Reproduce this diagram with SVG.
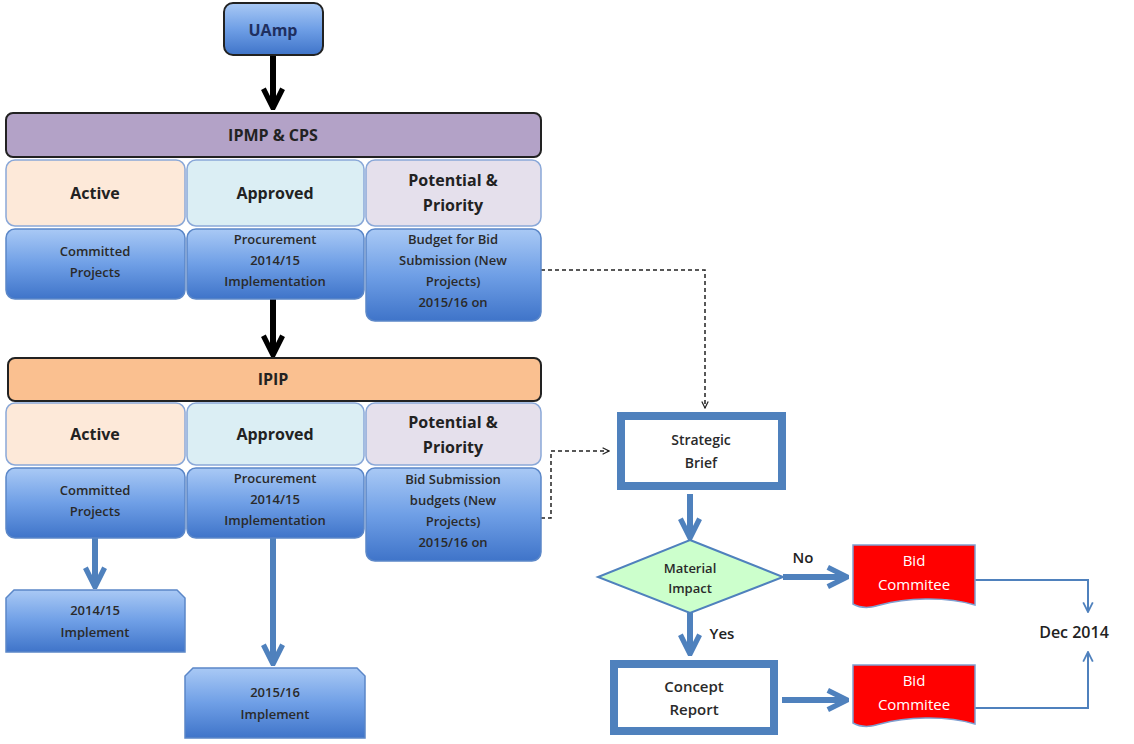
<svg xmlns="http://www.w3.org/2000/svg" width="1134" height="744" viewBox="0 0 1134 744">
<defs>
<linearGradient id="blue" x1="0" y1="0" x2="0" y2="1">
<stop offset="0" stop-color="#a9c9f5"/>
<stop offset="0.5" stop-color="#6f9fe6"/>
<stop offset="1" stop-color="#3f74c9"/>
</linearGradient>
<marker id="blk" viewBox="0 0 10 10" refX="9" refY="5" markerWidth="4" markerHeight="4" orient="auto" markerUnits="strokeWidth"><path d="M1,1 L9,5 L1,9" fill="none" stroke="#000" stroke-width="2.2"/></marker>
<marker id="bl" viewBox="0 0 10 10" refX="9" refY="5" markerWidth="4" markerHeight="4" orient="auto" markerUnits="strokeWidth"><path d="M1,1 L9,5 L1,9" fill="none" stroke="#4f81bd" stroke-width="2.2"/></marker>
<marker id="dsh" viewBox="0 0 10 10" refX="9" refY="5" markerWidth="8" markerHeight="8" orient="auto" markerUnits="userSpaceOnUse"><path d="M1,1 L9,5 L1,9" fill="none" stroke="#222" stroke-width="1.5"/></marker>
<marker id="thin" viewBox="0 0 10 10" refX="9" refY="5" markerWidth="12" markerHeight="12" orient="auto" markerUnits="userSpaceOnUse"><path d="M1,1 L9,5 L1,9" fill="none" stroke="#4f81bd" stroke-width="1.5"/></marker>
</defs>
<style>
text{font-family:"Open Sans","Liberation Sans",sans-serif;text-anchor:middle;fill:#222}
.h{font-size:16px;font-weight:bold}
.c{font-size:16px;font-weight:bold}
.b{font-size:13px;font-weight:600;fill:#2a2a2a}
.w{fill:#fff;font-size:15px}
.bx{fill:url(#blue);stroke:#5b87c8;stroke-width:1.5}
.hd{stroke:#222;stroke-width:2}
.cat{stroke:#8aa8d8;stroke-width:1.5}
.red{fill:#ff0000;stroke:#7f9fd0;stroke-width:1.5}
.dbl{fill:#fff;stroke:#4f81bd;stroke-width:8}
</style>
<rect width="1134" height="744" fill="#fff"/>
<g id="connectors">
<line x1="273" y1="55" x2="273" y2="108" stroke="#000" stroke-width="6" marker-end="url(#blk)"/>
<line x1="273" y1="299" x2="273" y2="355" stroke="#000" stroke-width="6" marker-end="url(#blk)"/>
<line x1="95" y1="538" x2="95" y2="587" stroke="#4f81bd" stroke-width="6" marker-end="url(#bl)"/>
<line x1="273" y1="538" x2="273" y2="664" stroke="#4f81bd" stroke-width="6" marker-end="url(#bl)"/>
<path d="M541,270 H705 V408" fill="none" stroke="#222" stroke-width="1.5" stroke-dasharray="4,3" marker-end="url(#dsh)"/>
<path d="M541,518 H551 V451 H609" fill="none" stroke="#222" stroke-width="1.5" stroke-dasharray="4,3" marker-end="url(#dsh)"/>
<line x1="690" y1="494" x2="690" y2="538" stroke="#4f81bd" stroke-width="6" marker-end="url(#bl)"/>
<line x1="783" y1="577" x2="847" y2="577" stroke="#4f81bd" stroke-width="6" marker-end="url(#bl)"/>
<line x1="690" y1="613" x2="690" y2="654" stroke="#4f81bd" stroke-width="6" marker-end="url(#bl)"/>
<line x1="782" y1="700" x2="847" y2="700" stroke="#4f81bd" stroke-width="6" marker-end="url(#bl)"/>
<path d="M975,580 H1088 V612" fill="none" stroke="#4f81bd" stroke-width="2" marker-end="url(#thin)"/>
<path d="M975,708 H1088 V652" fill="none" stroke="#4f81bd" stroke-width="2" marker-end="url(#thin)"/>
<text x="803" y="563" style="font-size:15px;font-weight:600">No</text>
<text x="722" y="639" style="font-size:15px;font-weight:600">Yes</text>
</g>
<g id="uamp"><rect x="224" y="3" width="99" height="52" rx="9" class="bx" style="stroke:#222;stroke-width:2"/><text x="273" y="36" class="h" style="fill:#1f2f5f">UAmp</text></g>
<g id="ipmp"><rect x="6" y="113" width="535" height="44" rx="7" fill="#b3a2c7" class="hd"/><text x="273" y="141" class="h">IPMP &amp; CPS</text></g>
<g id="active1"><rect x="6" y="160" width="179" height="66" rx="9" fill="#fde9d9" class="cat"/><text x="95" y="199" class="c">Active</text></g>
<g id="approved1"><rect x="187" y="160" width="177" height="66" rx="9" fill="#dbeef4" class="cat"/><text x="275" y="199" class="c">Approved</text></g>
<g id="potential1"><rect x="366" y="160" width="175" height="66" rx="9" fill="#e5e0ec" class="cat"/><text x="453" y="186" class="c">Potential &amp;</text><text x="453" y="211" class="c">Priority</text></g>
<g id="committed1"><rect x="6" y="229" width="179" height="70" rx="9" class="bx"/><text x="95" y="256" class="b">Committed</text><text x="95" y="277" class="b">Projects</text></g>
<g id="procurement1"><rect x="187" y="229" width="177" height="70" rx="9" class="bx"/><text x="275" y="244" class="b">Procurement</text><text x="275" y="265" class="b">2014/15</text><text x="275" y="286" class="b">Implementation</text></g>
<g id="budget1"><rect x="366" y="229" width="175" height="92" rx="9" class="bx"/><text x="453" y="244" class="b">Budget for Bid</text><text x="453" y="265" class="b">Submission (New</text><text x="453" y="286" class="b">Projects)</text><text x="453" y="307" class="b">2015/16 on</text></g>
<g id="ipip"><rect x="8" y="358" width="533" height="43" rx="7" fill="#fac090" class="hd"/><text x="273" y="385" class="h">IPIP</text></g>
<g id="active2"><rect x="6" y="403" width="179" height="62" rx="9" fill="#fde9d9" class="cat"/><text x="95" y="440" class="c">Active</text></g>
<g id="approved2"><rect x="187" y="403" width="177" height="62" rx="9" fill="#dbeef4" class="cat"/><text x="275" y="440" class="c">Approved</text></g>
<g id="potential2"><rect x="366" y="403" width="175" height="62" rx="9" fill="#e5e0ec" class="cat"/><text x="453" y="428" class="c">Potential &amp;</text><text x="453" y="453" class="c">Priority</text></g>
<g id="committed2"><rect x="6" y="468" width="179" height="70" rx="9" class="bx"/><text x="95" y="495" class="b">Committed</text><text x="95" y="516" class="b">Projects</text></g>
<g id="procurement2"><rect x="187" y="468" width="177" height="70" rx="9" class="bx"/><text x="275" y="483" class="b">Procurement</text><text x="275" y="504" class="b">2014/15</text><text x="275" y="525" class="b">Implementation</text></g>
<g id="bidsub2"><rect x="366" y="468" width="175" height="93" rx="9" class="bx"/><text x="453" y="484" class="b">Bid Submission</text><text x="453" y="505" class="b">budgets (New</text><text x="453" y="526" class="b">Projects)</text><text x="453" y="547" class="b">2015/16 on</text></g>
<g id="impl1"><path d="M14,590 H177 L185,598 V652 H6 V598 Z" class="bx"/><text x="95" y="615" class="b">2014/15</text><text x="95" y="637" class="b">Implement</text></g>
<g id="impl2"><path d="M193,668 H357 L365,676 V738 H185 V676 Z" class="bx"/><text x="275" y="697" class="b">2015/16</text><text x="275" y="719" class="b">Implement</text></g>
<g id="strategic"><rect x="621" y="416" width="161" height="70" class="dbl"/><text x="701" y="445" class="b" style="font-size:14px">Strategic</text><text x="701" y="468" class="b" style="font-size:14px">Brief</text></g>
<g id="material"><path d="M690,540 L783,577 L690,613 L598,577 Z" fill="#ccffcc" stroke="#4f81bd" stroke-width="2"/><text x="690" y="573" class="b">Material</text><text x="690" y="593" class="b">Impact</text></g>
<g id="concept"><rect x="614" y="664" width="160" height="67" class="dbl"/><text x="694" y="692" class="b" style="font-size:15px">Concept</text><text x="694" y="715" class="b" style="font-size:15px">Report</text></g>
<g id="bid1"><path d="M853,545 H975 V605 C945,596 905,598 880,605 C868,609 860,608 853,604 Z" class="red"/><text x="914" y="566" class="w">Bid</text><text x="914" y="590" class="w">Commitee</text></g>
<g id="bid2"><path d="M853,665 H975 V724 C945,715 905,717 880,724 C868,728 860,727 853,723 Z" class="red"/><text x="914" y="686" class="w">Bid</text><text x="914" y="710" class="w">Commitee</text></g>
<g id="dec"><text x="1074" y="638" style="font-size:16px;font-weight:600">Dec 2014</text></g>
</svg>
